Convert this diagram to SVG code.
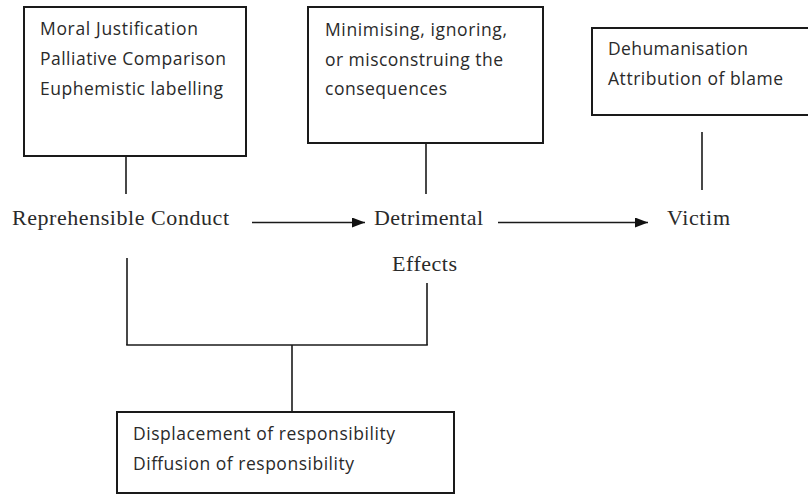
<svg xmlns="http://www.w3.org/2000/svg" width="808" height="494" viewBox="0 0 808 494">
<style>
.box{fill:#fff;stroke:#1a1a1a;stroke-width:2}
.ln{stroke:#1a1a1a;stroke-width:1.6;fill:none}
.s{font-family:"Open Sans","Liberation Sans",sans-serif;font-size:17.5px;fill:#2a2a2a}
.t{font-family:"Liberation Serif","Times New Roman",serif;font-size:22px;fill:#2a2a2a}
</style>
<defs>
<marker id="ah" markerWidth="13" markerHeight="10" refX="13" refY="5" orient="auto" markerUnits="userSpaceOnUse">
<path d="M0,0 L13,5 L0,10 Z" fill="#111"/>
</marker>
</defs>
<rect width="808" height="494" fill="#fff"/>
<g id="connectors">
<line class="ln" x1="126" y1="156" x2="126" y2="194"/>
<line class="ln" x1="426" y1="143" x2="426" y2="194"/>
<line class="ln" x1="702" y1="132" x2="702" y2="190"/>
<line class="ln" x1="252" y1="222.5" x2="365" y2="222.5" marker-end="url(#ah)"/>
<line class="ln" x1="498" y1="222.5" x2="648" y2="222.5" marker-end="url(#ah)"/>
<line class="ln" x1="127" y1="258" x2="127" y2="345"/>
<line class="ln" x1="427" y1="283" x2="427" y2="345"/>
<line class="ln" x1="126.2" y1="345" x2="427.8" y2="345"/>
<line class="ln" x1="292" y1="345" x2="292" y2="412"/>
</g>
<g id="box-neutralising">
<rect class="box" x="24" y="7" width="222" height="149"/>
<text class="s" x="40" y="35" textLength="158" lengthAdjust="spacing">Moral Justification</text>
<text class="s" x="40" y="65" textLength="186" lengthAdjust="spacing">Palliative Comparison</text>
<text class="s" x="40" y="95" textLength="183" lengthAdjust="spacing">Euphemistic labelling</text>
</g>
<g id="box-consequences">
<rect class="box" x="308" y="7" width="235" height="136"/>
<text class="s" x="325" y="36" textLength="182" lengthAdjust="spacing">Minimising, ignoring,</text>
<text class="s" x="325" y="66" textLength="178" lengthAdjust="spacing">or misconstruing the</text>
<text class="s" x="325" y="95" textLength="122" lengthAdjust="spacing">consequences</text>
</g>
<g id="box-victim">
<rect class="box" x="592" y="28" width="230" height="87"/>
<text class="s" x="608" y="55" textLength="140" lengthAdjust="spacing">Dehumanisation</text>
<text class="s" x="608" y="85" textLength="175" lengthAdjust="spacing">Attribution of blame</text>
</g>
<g id="box-responsibility">
<rect class="box" x="117" y="412" width="337" height="81"/>
<text class="s" x="133" y="440" textLength="262" lengthAdjust="spacing">Displacement of responsibility</text>
<text class="s" x="133" y="470" textLength="221" lengthAdjust="spacing">Diffusion of responsibility</text>
</g>
<g id="node-conduct">
<text class="t" x="12" y="225" textLength="217" lengthAdjust="spacing">Reprehensible Conduct</text>
</g>
<g id="node-effects">
<text class="t" x="374" y="225" textLength="109" lengthAdjust="spacing">Detrimental</text>
<text class="t" x="392" y="271" textLength="65" lengthAdjust="spacing">Effects</text>
</g>
<g id="node-victim">
<text class="t" x="667" y="225" textLength="63" lengthAdjust="spacing">Victim</text>
</g>
</svg>
